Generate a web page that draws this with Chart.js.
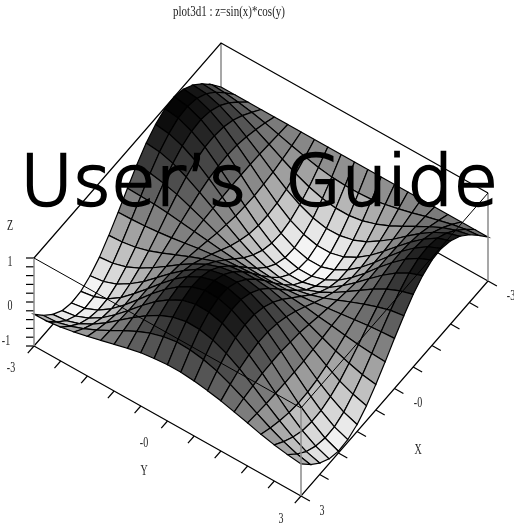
<!DOCTYPE html>
<html lang="en">
<head>
<meta charset="UTF-8">
<title>plot3d1 : z=sin(x)*cos(y)</title>
<script src="https://cdn.jsdelivr.net/npm/chart.js"></script>
<style>
    html, body { margin: 0; padding: 0; background: #fff; }
    canvas { display: block; }
</style>
</head>
<body>
<canvas id="plot" width="514" height="527"></canvas>
<script>
// grid of the surface, same steps on both axes
const xValues = [-3.14,-2.84,-2.54,-2.24,-1.94,-1.64,-1.34,-1.04,-0.74,-0.44,-0.14,0.16,0.46,0.76,1.06,1.36,1.66,1.96,2.26,2.56,2.86];
const yValues = [-3.14,-2.84,-2.54,-2.24,-1.94,-1.64,-1.34,-1.04,-0.74,-0.44,-0.14,0.16,0.46,0.76,1.06,1.36,1.66,1.96,2.26,2.56,2.86];

// heights, one row per x value
const zValues = [
    [0,0,0,0,0,0,0,0,0,0,0,0,0,0,0,0,0,0,0,0,0],
    [.30,.28,.24,.18,.11,.02,-.07,-.15,-.22,-.27,-.29,-.29,-.27,-.21,-.14,-.06,.03,.11,.19,.25,.28],
    [.56,.54,.47,.35,.20,.04,-.13,-.29,-.42,-.51,-.56,-.56,-.51,-.41,-.28,-.12,.05,.21,.36,.47,.54],
    [.78,.75,.65,.49,.28,.06,-.18,-.40,-.58,-.71,-.78,-.77,-.70,-.57,-.38,-.17,.07,.30,.50,.65,.75],
    [.93,.89,.77,.58,.34,.07,-.21,-.47,-.69,-.84,-.92,-.92,-.84,-.68,-.46,-.20,.08,.35,.59,.78,.89],
    [1.00,.95,.82,.62,.36,.07,-.23,-.50,-.74,-.90,-.99,-.99,-.89,-.72,-.49,-.21,.09,.38,.63,.83,.96],
    [.97,.93,.80,.61,.35,.07,-.22,-.49,-.72,-.88,-.96,-.96,-.87,-.71,-.48,-.21,.09,.37,.62,.81,.94],
    [.86,.82,.71,.54,.31,.06,-.20,-.44,-.64,-.78,-.85,-.85,-.77,-.63,-.42,-.18,.08,.33,.55,.72,.83],
    [.68,.65,.56,.42,.24,.05,-.15,-.34,-.50,-.61,-.67,-.67,-.61,-.49,-.33,-.14,.06,.26,.43,.56,.65],
    [.43,.41,.35,.27,.15,.03,-.10,-.22,-.32,-.39,-.42,-.42,-.38,-.31,-.21,-.09,.04,.16,.27,.36,.41],
    [.14,.13,.12,.09,.05,.01,-.03,-.07,-.10,-.13,-.14,-.14,-.13,-.10,-.07,-.03,.01,.05,.09,.12,.14],
    [-.16,-.15,-.13,-.10,-.06,-.01,.04,.08,.12,.14,.16,.16,.14,.11,.08,.03,-.01,-.06,-.10,-.13,-.15],
    [-.44,-.42,-.37,-.28,-.16,-.03,.10,.22,.33,.40,.44,.44,.40,.32,.22,.09,-.04,-.17,-.28,-.37,-.42],
    [-.69,-.66,-.57,-.43,-.25,-.05,.16,.35,.51,.62,.68,.68,.62,.50,.34,.15,-.06,-.26,-.44,-.57,-.66],
    [-.87,-.83,-.72,-.54,-.32,-.06,.20,.44,.64,.79,.86,.86,.78,.63,.43,.18,-.08,-.33,-.55,-.73,-.84],
    [-.98,-.93,-.81,-.61,-.35,-.07,.22,.49,.72,.88,.97,.97,.88,.71,.48,.21,-.09,-.37,-.62,-.82,-.94],
    [-1.00,-.95,-.82,-.62,-.36,-.07,.23,.50,.73,.90,.99,.98,.89,.72,.49,.21,-.09,-.38,-.63,-.83,-.96],
    [-.93,-.88,-.76,-.58,-.34,-.07,.21,.47,.68,.84,.92,.91,.83,.67,.45,.20,-.08,-.35,-.59,-.77,-.89],
    [-.77,-.74,-.64,-.48,-.28,-.05,.18,.39,.57,.70,.77,.76,.69,.56,.38,.16,-.07,-.29,-.49,-.65,-.74],
    [-.55,-.53,-.45,-.34,-.20,-.04,.13,.28,.41,.50,.55,.54,.49,.40,.27,.12,-.05,-.21,-.35,-.46,-.53],
    [-.28,-.27,-.23,-.17,-.10,-.02,.06,.14,.21,.25,.28,.28,.25,.20,.14,.06,-.02,-.11,-.18,-.23,-.27]
];

const xTicks = [-3.14,-2.54,-1.94,-1.34,-0.74,-0.14,0.46,1.06,1.66,2.26,2.86];
const yTicks = [-3.14,-2.54,-1.94,-1.34,-0.74,-0.14,0.46,1.06,1.66,2.26,2.86];
const zTicks = [-1,-0.8,-0.6,-0.4,-0.2,0,0.2,0.4,0.6,0.8,1];

const xMin = -3.14, xMax = 2.86, yMin = -3.14, yMax = 2.86, zMin = -1, zMax = 1;

// screen place of the box: three bottom corners and the height
const frontCorner = [301, 496];
const leftCorner = [34, 346];
const rightCorner = [488, 281];
const boxHeight = 88;

// orthographic view, so the projection is affine
function project(x, y, z) {
    const u = (xMax - x) / (xMax - xMin);
    const v = (yMax - y) / (yMax - yMin);
    const w = (z - zMin) / (zMax - zMin);
    return {
        x: frontCorner[0] + u * (rightCorner[0] - frontCorner[0]) + v * (leftCorner[0] - frontCorner[0]),
        y: frontCorner[1] + u * (rightCorner[1] - frontCorner[1]) + v * (leftCorner[1] - frontCorner[1]) - w * boxHeight
    };
}

function lineSet(points, color, width) {
    return {
        data: points,
        showLine: true,
        fill: false,
        borderColor: color,
        borderWidth: width,
        pointRadius: 0,
        tension: 0
    };
}

const black = '#000000';
const edgeGray = '#8a8a8a';
const datasets = [];

// Chart.js paints the first dataset last, so list from top layer down
// edges in front of the surface
datasets.push(lineSet([project(xMax, yMin, zMax), project(xMax, yMax, zMax), project(xMin, yMax, zMax)], black, 1));
datasets.push(lineSet([project(xMax, yMax, zMin), project(xMax, yMax, zMax)], edgeGray, 1.5));
datasets.push(lineSet([project(xMin, yMax, zMin), project(xMin, yMax, zMax)], edgeGray, 1.5));
datasets.push(lineSet([project(xMax, yMin, zMin), project(xMax, yMin, zMax)], edgeGray, 1.5));
datasets.push(lineSet([project(xMax, yMin, zMin), project(xMax, yMax, zMin), project(xMin, yMax, zMin)], black, 1.2));

// ticks, length given in axis units
xTicks.forEach(t => {
    const a = project(t, yMax, zMin);
    const b = project(t, yMax + 0.2, zMin);
    datasets.push(lineSet([a, b], black, 1.2));
});
yTicks.forEach(t => {
    const a = project(xMax, t, zMin);
    const b = project(xMax + 0.2, t, zMin);
    datasets.push(lineSet([a, b], black, 1.2));
});
zTicks.forEach(t => {
    const a = project(xMax, yMin, t);
    datasets.push(lineSet([a, { x: a.x - 8, y: a.y }], black, 1.2));
});

// surface cells, nearest corner first
for (let i = xValues.length - 2; i >= 0; i--) {
    for (let j = yValues.length - 2; j >= 0; j--) {
        const mean = (zValues[i][j] + zValues[i + 1][j] + zValues[i + 1][j + 1] + zValues[i][j + 1]) / 4;
        const g = Math.round(255 * (1 - mean) / 2);
        datasets.push({
            data: [
                project(xValues[i], yValues[j], zValues[i][j]),
                project(xValues[i + 1], yValues[j], zValues[i + 1][j]),
                project(xValues[i + 1], yValues[j + 1], zValues[i + 1][j + 1]),
                project(xValues[i], yValues[j + 1], zValues[i][j + 1]),
                project(xValues[i], yValues[j], zValues[i][j])
            ],
            showLine: true,
            fill: 'shape',
            backgroundColor: `rgb(${g},${g},${g})`,
            borderColor: black,
            borderWidth: 1.2,
            pointRadius: 0,
            tension: 0
        });
    }
}

// box edges behind the surface
datasets.push(lineSet([project(xMax, yMin, zMax), project(xMin, yMin, zMax), project(xMin, yMax, zMax)], black, 1.2));
datasets.push(lineSet([project(xMax, yMin, zMin), project(xMin, yMin, zMin), project(xMin, yMax, zMin)], black, 1.2));
datasets.push(lineSet([project(xMin, yMin, zMin), project(xMin, yMin, zMax)], edgeGray, 1.5));

// texts around the box
const titleText = 'plot3d1 : z=sin(x)*cos(y)';
const overlayText = 'User\u2019s Guide';
const axisTexts = [
    ['Z', 10, 226], ['1', 10, 262], ['0', 10, 306], ['-1', 6, 341],
    ['-3', 11, 368], ['-0', 144, 443], ['3', 281, 519], ['Y', 144, 471],
    ['-3', 511, 296], ['-0', 418, 403], ['3', 322, 511], ['X', 418, 450]
];

function stretchedText(ctx, text, x, y, sx, sy, outline) {
    ctx.save();
    ctx.translate(x, y);
    ctx.scale(sx, sy);
    ctx.fillText(text, 0, 0);
    if (outline) ctx.strokeText(text, 0, 0);
    ctx.restore();
}

const textPlugin = {
    id: 'plotTexts',
    afterDraw(chart) {
        const ctx = chart.ctx;
        ctx.save();
        ctx.fillStyle = '#222';
        ctx.textAlign = 'center';
        ctx.textBaseline = 'middle';
        ctx.font = '11px "Liberation Serif"';
        stretchedText(ctx, titleText, 229, 12, 1, 1.25);
        ctx.font = '10px "Liberation Serif"';
        axisTexts.forEach(t => stretchedText(ctx, t[0], t[1], t[2], 1, 1.4));
        // overlay words: thin face thickened a little, gap wider than the font's
        ctx.fillStyle = '#000';
        ctx.strokeStyle = '#000';
        ctx.lineWidth = 2.4;
        ctx.textBaseline = 'alphabetic';
        ctx.font = '200 70px "DejaVu Sans"';
        ctx.wordSpacing = '15px';
        stretchedText(ctx, overlayText, 259, 205, 1.037, 1, true);
        ctx.restore();
    }
};

new Chart(document.getElementById('plot'), {
    type: 'scatter',
    data: { datasets },
    plugins: [textPlugin],
    options: {
        responsive: false,
        animation: false,
        events: [],
        layout: { padding: 0 },
        plugins: { legend: { display: false }, title: { display: false }, tooltip: { enabled: false } },
        scales: {
            x: { type: 'linear', min: 0, max: 514, display: false },
            y: { type: 'linear', min: 0, max: 527, reverse: true, display: false }
        }
    }
});
</script>
</body>
</html>
